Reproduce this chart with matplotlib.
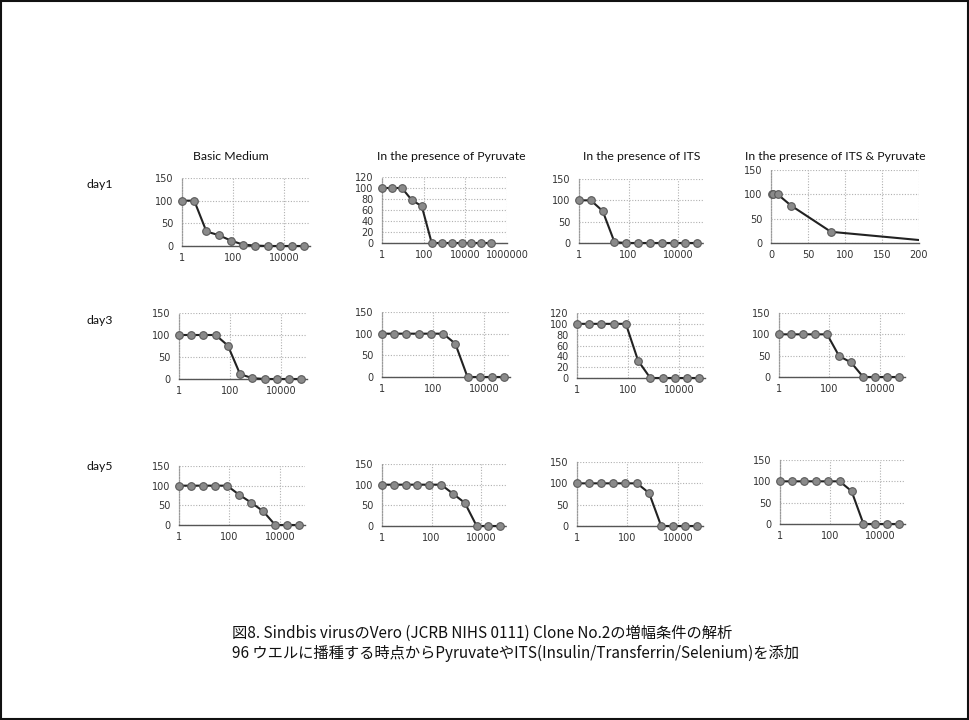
import matplotlib
matplotlib.use("Agg")
import matplotlib.pyplot as plt
from matplotlib.patches import Rectangle
import numpy as np

# ---- data ----
dilution = [1, 3, 9, 27, 81, 243, 729, 2187, 6561, 19683, 59049, 177147]
conditions = ["Basic Medium", "In the presence of Pyruvate",
              "In the presence of ITS", "In the presence of ITS & Pyruvate"]
days = ["day1", "day3", "day5"]

day1_basic = [100, 100, 32, 24, 12, 3, 1, 0, 0, 0, 0]
day1_pyr = [100, 100, 100, 78, 67, 0, 0, 0, 0, 0, 0, 0]
day1_its = [100, 100, 75, 2, 0, 0, 0, 0, 0, 0, 0]
day1_itspyr = [100, 100, 100, 77, 23, 0, 0, 0, 0, 0, 0]

day3_basic = [100, 100, 100, 100, 76, 11, 2, 0, 0, 0, 0]
day3_pyr = [100, 100, 100, 100, 100, 100, 77, 0, 0, 0, 0]
day3_its = [100, 100, 100, 100, 100, 32, 0, 0, 0, 0, 0]
day3_itspyr = [100, 100, 100, 100, 100, 49, 34, 0, 0, 0, 0]

day5_basic = [100, 100, 100, 100, 100, 77, 57, 35, 0, 0, 0]
day5_pyr = [100, 100, 100, 100, 100, 100, 78, 56, 0, 0, 0]
day5_its = [100, 100, 100, 100, 100, 100, 77, 0, 0, 0, 0]
day5_itspyr = [100, 100, 100, 100, 100, 100, 77, 0, 0, 0, 0]

series = [[day1_basic, day1_pyr, day1_its, day1_itspyr],
          [day3_basic, day3_pyr, day3_its, day3_itspyr],
          [day5_basic, day5_pyr, day5_its, day5_itspyr]]

caption1 = "図8. Sindbis virusのVero (JCRB NIHS 0111) Clone No.2の増幅条件の解析"
caption2 = "96 ウエルに播種する時点からPyruvateやITS(Insulin/Transferrin/Selenium)を添加"

# ---- layout (pixel boxes x0, y0, x1, y1) ----
W, H = 969, 720
boxes = [
    [(182, 178, 310, 246), (382, 177, 507, 243), (579, 179, 703, 243), (771, 170, 919, 243)],
    [(179, 313, 307, 379), (382, 312, 510, 377), (577, 313, 705, 378), (779, 313, 905, 377)],
    [(179, 466, 305, 525), (382, 464, 506, 526), (577, 462, 703, 526), (780, 460, 905, 524)],
]
row_label_y = [185, 320, 467]

plt.rcParams['font.family'] = ['Noto Sans CJK JP', 'DejaVu Sans']
fig = plt.figure(figsize=(W / 100, H / 100), dpi=100)
fig.patch.set_facecolor("white")

grid_kw = dict(color="#b0b0b0", linestyle=(0, (1, 1.5)), linewidth=0.8)

for r in range(3):
    for c in range(4):
        x0, y0, x1, y1 = boxes[r][c]
        ax = fig.add_axes([x0 / W, 1 - y1 / H, (x1 - x0) / W, (y1 - y0) / H])
        y = series[r][c]
        x = dilution[:len(y)]
        linear = (r == 0 and c == 3)
        ymax = 120 if (r == 0 and c == 1) or (r == 1 and c == 2) else 150
        ystep = 20 if ymax == 120 else 50
        if linear:
            ax.set_xlim(0, 200)
            ax.set_xticks([0, 50, 100, 150, 200])
            ax.plot(x, y, color="#222222", lw=1.5, zorder=3)
            xm = [a for a in x if a <= 200]
            ax.plot(xm, y[:len(xm)], linestyle="none", marker="o", ms=5.5,
                    mfc="#8a8a8a", mec="#5a5a5a", mew=0.8, clip_on=False, zorder=4)
        else:
            ax.set_xscale("log")
            xmax = 1e6 if max(x) > 1e5 else 1e5
            ax.set_xlim(1, xmax)
            ticks = [1, 100, 10000] + ([1000000] if xmax == 1e6 else [])
            ax.set_xticks(ticks)
            ax.set_xticklabels([str(t) for t in ticks])
            ax.xaxis.set_minor_locator(matplotlib.ticker.NullLocator())
            ax.plot(x, y, color="#222222", lw=1.5, marker="o", ms=5.5,
                    mfc="#8a8a8a", mec="#5a5a5a", mew=0.8, clip_on=False, zorder=3)
        ax.set_ylim(0, ymax)
        ax.set_yticks(np.arange(0, ymax + 1, ystep))
        ax.grid(True, which="major", **grid_kw)
        ax.tick_params(axis="y", length=0, pad=6, colors="#333333")
        ax.tick_params(axis="x", length=0, pad=5, colors="#333333")
        for lab in ax.get_xticklabels() + ax.get_yticklabels():
            lab.set_fontfamily('DejaVu Sans')
            lab.set_fontsize(7)
        for side in ["top", "right"]:
            ax.spines[side].set_visible(False)
        ax.spines["left"].set_color("#9a9a9a")
        ax.spines["left"].set_linestyle((0, (1, 1.2)))
        ax.spines["left"].set_linewidth(0.9)
        ax.spines["bottom"].set_color("#555555")
        ax.spines["bottom"].set_linestyle((0, (1, 1)))
        ax.spines["bottom"].set_linewidth(1.0)
        ax.set_axisbelow(True)

# column titles
title_x = [231, 451, 642, 835]
for c in range(4):
    fig.text(title_x[c] / W, 1 - 157 / H, conditions[c], ha="center", va="center",
             fontsize=8.8, family=['Lato', 'DejaVu Sans'], color="#111111")

for r in range(3):
    fig.text(100 / W, 1 - row_label_y[r] / H, days[r], ha="center", va="center",
             fontsize=8.8, family=['Lato', 'DejaVu Sans'], color="#111111")

fig.text(232 / W, 1 - 633 / H, caption1, ha="left", va="center", fontsize=11,
         family=['Noto Sans CJK JP', 'DejaVu Sans'], color="#111111")
fig.text(232 / W, 1 - 653 / H, caption2, ha="left", va="center", fontsize=11,
         family=['Noto Sans CJK JP', 'DejaVu Sans'], color="#111111")

fig.add_artist(Rectangle((0.0015, 0.002), 0.997, 0.996, transform=fig.transFigure,
                         fill=False, edgecolor="#111111", linewidth=1.5))

fig.savefig("out.png", dpi=100, facecolor="white")
